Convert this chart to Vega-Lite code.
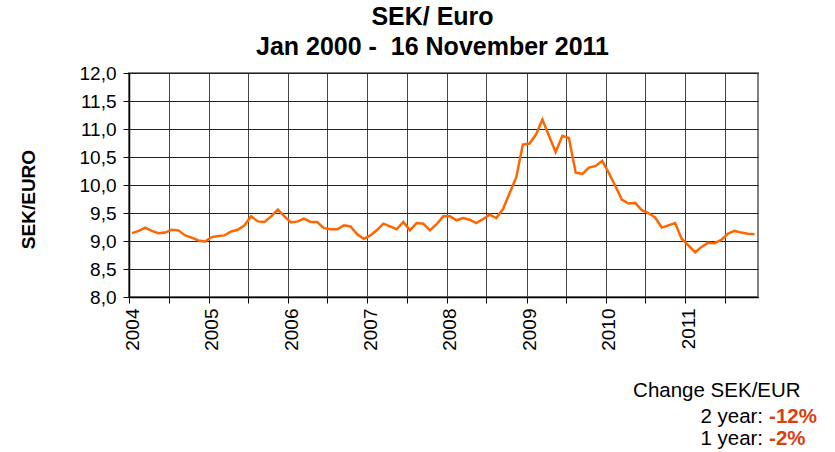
{
  "$schema": "https://vega.github.io/schema/vega-lite/v6.json",
  "autosize": {"type": "none"},
  "width": 629,
  "height": 224,
  "padding": {"left": 129, "top": 73, "right": 77, "bottom": 155},
  "background": "white",
  "config": {
    "font": "Liberation Sans",
    "view": {"stroke": "#808080", "strokeWidth": 2},
    "axis": {"labelColor": "black", "titleColor": "black", "domainColor": "black", "tickColor": "black"},
    "axisY": {
      "labelFontSize": 19, "labelPadding": 7, "labelOverlap": false, "tickSize": 6,
      "grid": true, "gridColor": "#222", "gridWidth": 1, "domainWidth": 1.5,
      "titleFontSize": 19, "titleFontWeight": "bold", "titleAngle": -90, "titleAlign": "center",
      "titleBaseline": "middle", "titleX": -101, "titleY": 126
    }
  },
  "title": {
    "text": ["SEK/ Euro", "Jan 2000 -\u00a0 16 November 2011"],
    "fontSize": 25,
    "fontWeight": "bold",
    "font": "Liberation Sans",
    "color": "black",
    "lineHeight": 30,
    "offset": 4,
    "dx": -11,
    "anchor": "middle",
    "frame": "group"
  },
  "layer": [
    {
      "data": {"values": [
        {"date": "2004-01-15", "rate": 9.14}, {"date": "2004-02-15", "rate": 9.18}, {"date": "2004-03-15", "rate": 9.24}, {"date": "2004-04-15", "rate": 9.18},
        {"date": "2004-05-15", "rate": 9.14}, {"date": "2004-06-15", "rate": 9.15}, {"date": "2004-07-15", "rate": 9.20}, {"date": "2004-08-15", "rate": 9.19},
        {"date": "2004-09-15", "rate": 9.10}, {"date": "2004-10-15", "rate": 9.06}, {"date": "2004-11-15", "rate": 9.01}, {"date": "2004-12-15", "rate": 8.99},
        {"date": "2005-01-15", "rate": 9.07}, {"date": "2005-02-15", "rate": 9.09}, {"date": "2005-03-15", "rate": 9.10}, {"date": "2005-04-15", "rate": 9.17},
        {"date": "2005-05-15", "rate": 9.20}, {"date": "2005-06-15", "rate": 9.28}, {"date": "2005-07-15", "rate": 9.44}, {"date": "2005-08-15", "rate": 9.35},
        {"date": "2005-09-15", "rate": 9.34}, {"date": "2005-10-15", "rate": 9.44}, {"date": "2005-11-15", "rate": 9.56}, {"date": "2005-12-15", "rate": 9.44},
        {"date": "2006-01-15", "rate": 9.33}, {"date": "2006-02-15", "rate": 9.35}, {"date": "2006-03-15", "rate": 9.40}, {"date": "2006-04-15", "rate": 9.34},
        {"date": "2006-05-15", "rate": 9.34}, {"date": "2006-06-15", "rate": 9.23}, {"date": "2006-07-15", "rate": 9.21}, {"date": "2006-08-15", "rate": 9.21},
        {"date": "2006-09-15", "rate": 9.28}, {"date": "2006-10-15", "rate": 9.26}, {"date": "2006-11-15", "rate": 9.12}, {"date": "2006-12-15", "rate": 9.04},
        {"date": "2007-01-15", "rate": 9.10}, {"date": "2007-02-15", "rate": 9.20}, {"date": "2007-03-15", "rate": 9.31}, {"date": "2007-04-15", "rate": 9.26},
        {"date": "2007-05-15", "rate": 9.21}, {"date": "2007-06-15", "rate": 9.34}, {"date": "2007-07-15", "rate": 9.19}, {"date": "2007-08-15", "rate": 9.32},
        {"date": "2007-09-15", "rate": 9.31}, {"date": "2007-10-15", "rate": 9.19}, {"date": "2007-11-15", "rate": 9.30}, {"date": "2007-12-15", "rate": 9.44},
        {"date": "2008-01-15", "rate": 9.44}, {"date": "2008-02-15", "rate": 9.37}, {"date": "2008-03-15", "rate": 9.41}, {"date": "2008-04-15", "rate": 9.38},
        {"date": "2008-05-15", "rate": 9.32}, {"date": "2008-06-15", "rate": 9.39}, {"date": "2008-07-15", "rate": 9.47}, {"date": "2008-08-15", "rate": 9.41},
        {"date": "2008-09-15", "rate": 9.57}, {"date": "2008-10-15", "rate": 9.85}, {"date": "2008-11-15", "rate": 10.14}, {"date": "2008-12-15", "rate": 10.72},
        {"date": "2009-01-15", "rate": 10.74}, {"date": "2009-02-15", "rate": 10.91}, {"date": "2009-03-15", "rate": 11.17}, {"date": "2009-04-15", "rate": 10.87},
        {"date": "2009-05-15", "rate": 10.59}, {"date": "2009-06-15", "rate": 10.88}, {"date": "2009-07-15", "rate": 10.84}, {"date": "2009-08-15", "rate": 10.22},
        {"date": "2009-09-15", "rate": 10.20}, {"date": "2009-10-15", "rate": 10.31}, {"date": "2009-11-15", "rate": 10.34}, {"date": "2009-12-15", "rate": 10.43},
        {"date": "2010-01-15", "rate": 10.21}, {"date": "2010-02-15", "rate": 9.97}, {"date": "2010-03-15", "rate": 9.74}, {"date": "2010-04-15", "rate": 9.67},
        {"date": "2010-05-15", "rate": 9.68}, {"date": "2010-06-15", "rate": 9.55}, {"date": "2010-07-15", "rate": 9.50}, {"date": "2010-08-15", "rate": 9.42},
        {"date": "2010-09-15", "rate": 9.24}, {"date": "2010-10-15", "rate": 9.28}, {"date": "2010-11-15", "rate": 9.32}, {"date": "2010-12-15", "rate": 9.04},
        {"date": "2011-01-15", "rate": 8.92}, {"date": "2011-02-15", "rate": 8.80}, {"date": "2011-03-15", "rate": 8.89}, {"date": "2011-04-15", "rate": 8.97},
        {"date": "2011-05-15", "rate": 8.96}, {"date": "2011-06-15", "rate": 9.02}, {"date": "2011-07-15", "rate": 9.13}, {"date": "2011-08-15", "rate": 9.18},
        {"date": "2011-09-15", "rate": 9.15}, {"date": "2011-10-15", "rate": 9.13}, {"date": "2011-11-15", "rate": 9.12}
      ]},
      "mark": {"type": "line", "color": "#FF6600", "strokeWidth": 2.5, "clip": true},
      "encoding": {
        "x": {
          "field": "date", "type": "temporal",
          "scale": {"domain": [{"year": 2004, "month": 1, "date": 1, "utc": true}, {"year": 2011, "month": 12, "date": 1, "utc": true}]},
          "axis": {
            "title": null,
            "values": [
              {"year": 2004, "month": 1, "date": 1, "utc": true}, {"year": 2004, "month": 7, "date": 1, "utc": true},
              {"year": 2005, "month": 1, "date": 1, "utc": true}, {"year": 2005, "month": 7, "date": 1, "utc": true},
              {"year": 2006, "month": 1, "date": 1, "utc": true}, {"year": 2006, "month": 7, "date": 1, "utc": true},
              {"year": 2007, "month": 1, "date": 1, "utc": true}, {"year": 2007, "month": 7, "date": 1, "utc": true},
              {"year": 2008, "month": 1, "date": 1, "utc": true}, {"year": 2008, "month": 7, "date": 1, "utc": true},
              {"year": 2009, "month": 1, "date": 1, "utc": true}, {"year": 2009, "month": 7, "date": 1, "utc": true},
              {"year": 2010, "month": 1, "date": 1, "utc": true}, {"year": 2010, "month": 7, "date": 1, "utc": true},
              {"year": 2011, "month": 1, "date": 1, "utc": true}, {"year": 2011, "month": 7, "date": 1, "utc": true}
            ],
            "labelExpr": "utcmonth(datum.value) == 0 ? utcFormat(datum.value, '%Y') : ''",
            "labelAngle": -90,
            "labelAlign": "right",
            "labelBaseline": "middle",
            "labelFontSize": 19,
            "labelPadding": 5,
            "labelOffset": 3,
            "labelOverlap": false,
            "tickSize": 6,
            "grid": true,
            "gridColor": "#444",
            "gridWidth": 1,
            "domainWidth": 1.5
          }
        },
        "y": {
          "field": "rate", "type": "quantitative",
          "scale": {"domain": [8, 12], "nice": false, "zero": false},
          "axis": {"title": "SEK/EURO", "values": [8, 8.5, 9, 9.5, 10, 10.5, 11, 11.5, 12], "labelExpr": "replace(format(datum.value, '.1f'), '.', ',')"}
        }
      }
    },
    {
      "data": {"values": [{"label": "Change SEK/EUR"}]},
      "mark": {"type": "text", "align": "left", "baseline": "alphabetic", "fontSize": 20.5, "color": "black", "font": "Liberation Sans"},
      "encoding": {
        "x": {"datum": {"year": 2010, "month": 5, "date": 6, "utc": true}, "type": "temporal"},
        "y": {"datum": 6.214, "type": "quantitative", "axis": {"title": "SEK/EURO", "values": [8, 8.5, 9, 9.5, 10, 10.5, 11, 11.5, 12], "labelExpr": "replace(format(datum.value, '.1f'), '.', ',')"}},
        "text": {"field": "label"}
      }
    },
    {
      "data": {"values": [{"label": "2 year:"}]},
      "mark": {"type": "text", "align": "right", "baseline": "alphabetic", "fontSize": 20.5, "color": "black", "dx": -3, "font": "Liberation Sans"},
      "encoding": {
        "x": {"datum": {"year": 2012, "month": 1, "date": 7, "utc": true}, "type": "temporal"},
        "y": {"datum": 5.75, "type": "quantitative", "axis": {"title": "SEK/EURO", "values": [8, 8.5, 9, 9.5, 10, 10.5, 11, 11.5, 12], "labelExpr": "replace(format(datum.value, '.1f'), '.', ',')"}},
        "text": {"field": "label"}
      }
    },
    {
      "data": {"values": [{"label": "-12%"}]},
      "mark": {"type": "text", "align": "left", "baseline": "alphabetic", "fontSize": 20.5, "fontWeight": "bold", "color": "#D9400F", "dx": 3, "font": "Liberation Sans"},
      "encoding": {
        "x": {"datum": {"year": 2012, "month": 1, "date": 7, "utc": true}, "type": "temporal"},
        "y": {"datum": 5.75, "type": "quantitative", "axis": {"title": "SEK/EURO", "values": [8, 8.5, 9, 9.5, 10, 10.5, 11, 11.5, 12], "labelExpr": "replace(format(datum.value, '.1f'), '.', ',')"}},
        "text": {"field": "label"}
      }
    },
    {
      "data": {"values": [{"label": "1 year:"}]},
      "mark": {"type": "text", "align": "right", "baseline": "alphabetic", "fontSize": 20.5, "color": "black", "dx": -3, "font": "Liberation Sans"},
      "encoding": {
        "x": {"datum": {"year": 2012, "month": 1, "date": 7, "utc": true}, "type": "temporal"},
        "y": {"datum": 5.357, "type": "quantitative", "axis": {"title": "SEK/EURO", "values": [8, 8.5, 9, 9.5, 10, 10.5, 11, 11.5, 12], "labelExpr": "replace(format(datum.value, '.1f'), '.', ',')"}},
        "text": {"field": "label"}
      }
    },
    {
      "data": {"values": [{"label": "-2%"}]},
      "mark": {"type": "text", "align": "left", "baseline": "alphabetic", "fontSize": 20.5, "fontWeight": "bold", "color": "#D9400F", "dx": 3, "font": "Liberation Sans"},
      "encoding": {
        "x": {"datum": {"year": 2012, "month": 1, "date": 7, "utc": true}, "type": "temporal"},
        "y": {"datum": 5.357, "type": "quantitative", "axis": {"title": "SEK/EURO", "values": [8, 8.5, 9, 9.5, 10, 10.5, 11, 11.5, 12], "labelExpr": "replace(format(datum.value, '.1f'), '.', ',')"}},
        "text": {"field": "label"}
      }
    }
  ]
}
